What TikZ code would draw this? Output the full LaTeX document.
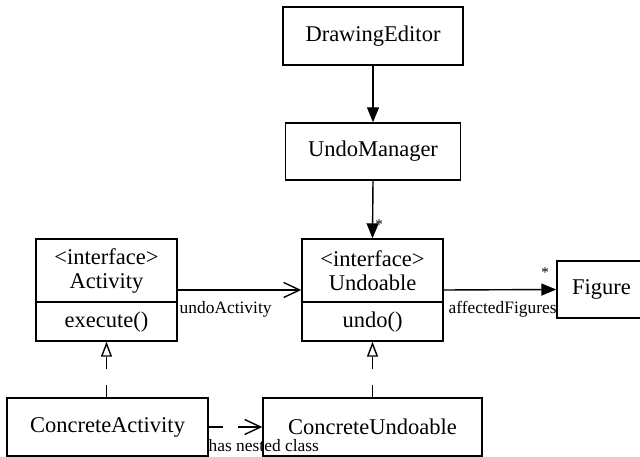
\documentclass[tikz,border=0pt]{standalone}
\usepackage{fontspec}
\setmainfont{Liberation Serif}
\usetikzlibrary{arrows.meta}
\begin{document}
\begin{tikzpicture}[x=1pt,y=-1pt,
  line width=1.4pt,
  classbox/.style={draw, rectangle, inner sep=0pt, font=\fontsize{22.5}{24}\selectfont},
  txt/.style={inner sep=0pt, align=center, font=\fontsize{22.5}{24}\selectfont},
  lbl/.style={inner sep=0pt, anchor=base west, font=\fontsize{17.4}{19}\selectfont},
  star/.style={inner sep=0pt, font=\fontsize{15}{16}\selectfont},
  assoc/.style={-{Triangle[length=15pt,width=12pt]}},
  navi/.style={-{Straight Barb[length=16pt,width=15pt]}},
  realize/.style={-{Triangle[open,length=15pt,width=11pt]}, dash pattern=on 12pt off 16pt},
  dep/.style={-{Straight Barb[length=16pt,width=15pt]}, dash pattern=on 14pt off 15pt on 60pt off 1pt}
]
\useasboundingbox (0,0) rectangle (640,457);
\clip (0,0) rectangle (640,457);

% simple classes
\node[classbox, minimum width=180pt, minimum height=58pt] (de) at (373,36) {DrawingEditor};
\node[classbox, minimum width=175pt, minimum height=57pt] (um) at (373,151.5) {UndoManager};
\node[classbox, minimum width=89pt, minimum height=57pt] (fig) at (601.5,289.5) {Figure};
\node[classbox, minimum width=201pt, minimum height=58pt] (ca) at (107.5,427) {ConcreteActivity};
\node[classbox, minimum width=219pt, minimum height=58pt] (cu) at (372.5,427) {ConcreteUndoable};

% Activity interface
\node[classbox, minimum width=141pt, minimum height=102pt] (act) at (106.5,290) {};
\draw (act.west |- 0,302) coordinate (actdl) -- (act.east |- 0,302) coordinate (actdr);
\node[txt] (acttitle) at (106.5,271) {<interface>\\Activity};
\node[txt] (actop) at (106.5,322) {execute()};

% Undoable interface
\node[classbox, minimum width=141pt, minimum height=102pt] (und) at (372.5,290) {};
\draw (und.west |- 0,302) coordinate (undl) -- (und.east |- 0,302) coordinate (undr);
\node[txt] (undtitle) at (372.5,271) {<interface>\\Undoable};
\node[txt] (undop) at (372.5,322) {undo()};

% connectors
\draw[assoc] (de.south) -- (um.north);
\draw[assoc] (um.south) -- (und.north);
\node[star] (star1) at (379,225) {*};
\draw[navi] (act.east) -- (und.west);
\node[lbl] (l1) at (179,313) {undoActivity};
\draw[assoc] (und.east) -- (fig.west);
\node[star] (star2) at (545,273) {*};
\node[lbl] (l2) at (448,313) {affectedFigures};
\draw[realize] (ca.north -| act.south) -- (act.south);
\draw[realize] (cu.north) -- (und.south);
\draw[dep] (ca.east) -- (cu.west);
\node[lbl] (l3) at (208,451) {has nested class};
\end{tikzpicture}
\end{document}
